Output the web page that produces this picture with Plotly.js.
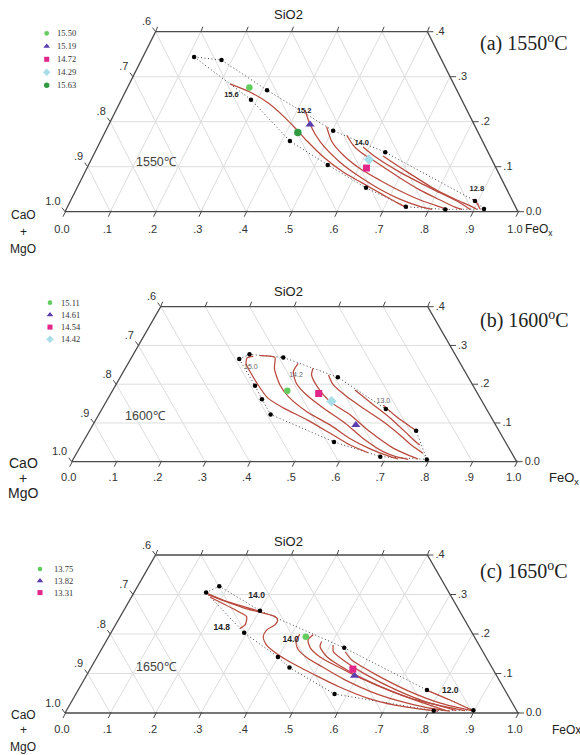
<!DOCTYPE html>
<html><head><meta charset="utf-8">
<script src="https://cdn.plot.ly/plotly-3.0.1.min.js"></script>
<style>html,body{margin:0;padding:0;background:#fff}#chart{width:580px;height:755px}</style>
</head><body><div id="chart"></div>
<script>
// ================= DATA (ternary: FeOx fraction, SiO2 fraction) =================
const bottomTickLabels = ['0.0','.1','.2','.3','.4','.5','.6','.7','.8','.9','1.0']; // FeOx
const leftTickLabels   = ['1.0','.9','.8','.7','.6'];  // CaO+MgO
const rightTickLabels  = ['0.0','.1','.2','.3','.4'];  // SiO2

// ---- (a) 1550 C ----
const a_legendValues = ['15.50','15.19','14.72','14.29','15.63'];
const a_ptFeO  = [0.269,0.444,0.617,0.613,0.426];
const a_ptSiO2 = [0.276,0.194,0.097,0.116,0.176];
const a_dotFeO  = [0.113,0.177,0.311,0.286,0.418,0.502,0.528,0.641,0.638,0.747,0.837,0.893,0.922];
const a_dotSiO2 = [0.344,0.337,0.270,0.249,0.157,0.180,0.104,0.132,0.053,0.011,0.005,0.024,0.006];
const a_upperIdx = [0,1,2,5,7,11,12];
const a_lowerIdx = [0,3,4,6,8,9,10,12];
const a_isoFeO = [
 [0.222,0.275,0.327,0.375,0.415,0.456,0.509,0.570,0.624,0.680,0.725,0.753],
 [0.417,0.443,0.486,0.552,0.613,0.670,0.725,0.773,0.808],
 [0.483,0.511,0.551,0.603,0.660,0.717,0.771,0.818,0.843],
 [0.537,0.562,0.585,0.644,0.702,0.760,0.815,0.856,0.874],
 [0.586,0.624,0.695,0.752,0.807,0.857,0.892],
 [0.640,0.710,0.796,0.852,0.888,0.907],
 [0.887,0.900,0.913]
];
const a_isoSiO2 = [
 [0.284,0.266,0.242,0.213,0.186,0.157,0.122,0.088,0.064,0.039,0.019,0.008],
 [0.226,0.195,0.155,0.110,0.077,0.050,0.028,0.013,0.005],
 [0.189,0.156,0.126,0.096,0.070,0.046,0.026,0.012,0.005],
 [0.170,0.148,0.133,0.104,0.075,0.048,0.026,0.010,0.005],
 [0.144,0.122,0.088,0.064,0.042,0.022,0.005],
 [0.124,0.089,0.048,0.026,0.013,0.005],
 [0.028,0.019,0.006]
];
const a_labelText = ['15.6','15.2','14.0','12.8'];
const a_labelFeO  = [0.238,0.416,0.579,0.884];
const a_labelSiO2 = [0.259,0.224,0.152,0.050];

// ---- (b) 1600 C ----
const b_legendValues = ['15.11','14.61','14.54','14.42'];
const b_ptFeO  = [0.393,0.591,0.467,0.506];
const b_ptSiO2 = [0.183,0.095,0.176,0.156];
const b_dotFeO  = [0.244,0.261,0.341,0.314,0.347,0.386,0.489,0.638,0.734,0.795,0.687,0.564];
const b_dotSiO2 = [0.265,0.277,0.269,0.196,0.161,0.122,0.218,0.136,0.080,0.006,0.013,0.051];
const b_upperIdx = [0,1,2,6,7,8,9];
const b_lowerIdx = [0,3,4,5,11,10,9];
const b_isoFeO = [
 [0.272,0.260,0.266,0.285,0.320,0.359,0.406,0.475,0.543,0.604,0.655],
 [0.286,0.322,0.335,0.369,0.403,0.464,0.533,0.595,0.654,0.709,0.730],
 [0.382,0.382,0.404,0.442,0.497,0.559,0.625,0.687,0.722,0.753],
 [0.422,0.427,0.460,0.503,0.565,0.632,0.705,0.753,0.775],
 [0.465,0.489,0.534,0.586,0.649,0.703,0.745,0.778],
 [0.544,0.593,0.659,0.711,0.745,0.761],
 [0.627,0.672,0.708,0.731]
];
const b_isoSiO2 = [
 [0.272,0.268,0.252,0.232,0.198,0.164,0.139,0.108,0.074,0.043,0.023],
 [0.274,0.269,0.241,0.198,0.168,0.129,0.095,0.060,0.033,0.013,0.007],
 [0.254,0.232,0.202,0.172,0.138,0.103,0.060,0.026,0.013,0.006],
 [0.241,0.224,0.189,0.155,0.121,0.077,0.035,0.015,0.007],
 [0.224,0.198,0.168,0.138,0.103,0.069,0.041,0.022],
 [0.185,0.154,0.113,0.077,0.053,0.043],
 [0.146,0.116,0.095,0.082]
];
const b_labelText = ['15.0','14.2','13.0'];
const b_labelFeO  = [0.280,0.392,0.622];
const b_labelSiO2 = [0.245,0.224,0.157];

// ---- (c) 1650 C ----
const c_legendValues = ['13.75','13.82','13.31'];
const c_ptFeO  = [0.435,0.592,0.580];
const c_ptSiO2 = [0.193,0.094,0.111];
const c_dotFeO  = [0.159,0.180,0.301,0.294,0.399,0.438,0.534,0.571,0.770,0.811,0.898];
const c_dotSiO2 = [0.305,0.321,0.259,0.203,0.142,0.115,0.165,0.048,0.058,0.006,0.007];
const c_upperIdx = [0,1,2,6,8,10];
const c_lowerIdx = [0,3,4,5,7,9,10];
const c_isoFeO = [
 [0.162,0.211,0.258,0.299],
 [0.167,0.265,0.342,0.352,0.352,0.340,0.341,0.359,0.398,0.447,0.513,0.570,0.651,0.718,0.779,0.821],
 [0.174,0.254,0.279,0.286,0.279],
 [0.419,0.419,0.433,0.461,0.509,0.576,0.651,0.724,0.795,0.847],
 [0.449,0.444,0.459,0.492,0.544,0.607,0.690,0.770,0.838],
 [0.476,0.479,0.506,0.568,0.643,0.743,0.819,0.860],
 [0.506,0.515,0.547,0.608,0.703,0.793,0.880],
 [0.541,0.566,0.630,0.725,0.816,0.895],
 [0.769,0.833,0.898]
];
const c_isoSiO2 = [
 [0.303,0.284,0.270,0.258],
 [0.299,0.265,0.244,0.235,0.223,0.210,0.193,0.172,0.147,0.122,0.092,0.067,0.037,0.020,0.010,0.005],
 [0.293,0.257,0.244,0.223,0.214],
 [0.199,0.182,0.162,0.142,0.117,0.084,0.053,0.030,0.013,0.005],
 [0.198,0.185,0.165,0.142,0.117,0.089,0.056,0.028,0.006],
 [0.181,0.168,0.143,0.109,0.075,0.038,0.018,0.006],
 [0.172,0.155,0.134,0.101,0.058,0.025,0.006],
 [0.155,0.134,0.101,0.058,0.025,0.006],
 [0.058,0.033,0.006]
];
const c_labelText = ['14.0','14.8','14.0','12.0'];
const c_labelFeO  = [0.275,0.238,0.406,0.822];
const c_labelSiO2 = [0.296,0.216,0.185,0.057];

// ================= STYLE / LAYOUT =================
const W = 580, H = 755;
const SANS = 'Liberation Sans, Arial, sans-serif';
const SERIF = 'Liberation Serif, Times New Roman, serif';
const ISO_COLOR = '#b9493d';
const SYMS = ['circle','triangle-up','square','diamond','circle'];
const COLS = ['#63cc5f','#5a3eae','#e3268a','#a8dee8','#2f9a40'];
const SIZES = [6.5,8,7,8,7.5];

const panels = [
 {tag:'(a) 1550', temp:'1550℃', X0:65, PW:453, Y0:211.7, PH:450, top:0, bot:248, grid:'tri',
  legend:a_legendValues, ptF:a_ptFeO, ptS:a_ptSiO2, dotF:a_dotFeO, dotS:a_dotSiO2, up:a_upperIdx, lo:a_lowerIdx,
  isoF:a_isoFeO, isoS:a_isoSiO2, labT:a_labelText, labF:a_labelFeO, labS:a_labelSiO2,
  labFont:{family:SANS,size:7.5,color:'#222'}, labBold:true,
  legX:46.7, legTX:55, legY:33.3, legStep:13.0, tagY:43, tempXY:[156.7,162.3], siY:15,
  caoY:[215,232,249], caoSize:12, feoXY:[523,230], feoSize:12, feoSub:true, botOff:18.3},
 {tag:'(b) 1600', temp:'1600℃', X0:71.7, PW:445, Y0:461.7, PH:387.5, top:248, bot:500, grid:'skew',
  legend:b_legendValues, ptF:b_ptFeO, ptS:b_ptSiO2, dotF:b_dotFeO, dotS:b_dotSiO2, up:b_upperIdx, lo:b_lowerIdx,
  isoF:b_isoFeO, isoS:b_isoSiO2, labT:b_labelText, labF:b_labelFeO, labS:b_labelSiO2,
  labFont:{family:SANS,size:7,color:'#666'}, labBold:false,
  legX:50, legTX:59, legY:302.7, legStep:12.2, tagY:320, tempXY:[145.7,415.7], siY:291,
  caoY:[463,478,493], caoSize:14, feoXY:[547,478], feoSize:13, feoSub:true, botOff:17},
 {tag:'(c) 1650', temp:'1650℃', X0:65, PW:453, Y0:713, PH:395, top:500, bot:755, grid:'tri',
  legend:c_legendValues, ptF:c_ptFeO, ptS:c_ptSiO2, dotF:c_dotFeO, dotS:c_dotSiO2, up:c_upperIdx, lo:c_lowerIdx,
  isoF:c_isoFeO, isoS:c_isoSiO2, labT:c_labelText, labF:c_labelFeO, labS:c_labelSiO2,
  labFont:{family:SANS,size:8.5,color:'#222'}, labBold:true,
  legX:40, legTX:51.7, legY:569, legStep:11.8, tagY:570, tempXY:[156,666.7], siY:541,
  caoY:[715,730,747], caoSize:12, feoXY:[550,730], feoSize:12, feoSub:false, botOff:17}
];

const traces = [];
const annotations = [];
const layout = {width:W, height:H, margin:{l:0,r:0,t:0,b:0}, paper_bgcolor:'#fff', plot_bgcolor:'rgba(0,0,0,0)', showlegend:false};

function tern(F,S){ return [F + S/2, S]; }
function ann(text, X, Y, font, xanchor){
  annotations.push({text:text, xref:'paper', yref:'paper', x:X/W, y:1-Y/H, xanchor:xanchor||'center', yanchor:'middle', showarrow:false, font:font});
}

panels.forEach((p,i)=>{
  const xa = i===0 ? 'x' : 'x'+(i+1), ya = i===0 ? 'y' : 'y'+(i+1);
  const xk = i===0 ? 'xaxis' : 'xaxis'+(i+1), yk = i===0 ? 'yaxis' : 'yaxis'+(i+1);
  layout[xk] = {domain:[0,1], range:[-p.X0/p.PW, (W-p.X0)/p.PW], visible:false, fixedrange:true, anchor:ya};
  layout[yk] = {domain:[1-p.bot/H, 1-p.top/H], range:[(p.Y0-p.bot)/p.PH, (p.Y0-p.top)/p.PH], visible:false, fixedrange:true, anchor:xa};
  const dx = v=>v/p.PW, dy = v=>v/p.PH;
  const pxX = X=>(X-p.X0)/p.PW, pxY = Y=>(p.Y0-Y)/p.PH;
  const base = {xaxis:xa, yaxis:ya, hoverinfo:'skip', cliponaxis:false};

  // grid
  const gx=[], gy=[];
  const seg=(a,b)=>{gx.push(a[0],b[0],null); gy.push(a[1],b[1],null);};
  [0.1,0.2,0.3].forEach(s=>seg([s/2,s],[1-s/2,s]));
  for(let k=1;k<=9;k++){
    const v=k/10, sm=Math.min(0.4,1-v);
    seg([1-v,0],[1-v-sm/2,sm]);            // constant CaO+MgO
    if(p.grid==='tri') seg([v,0],[v+sm/2,sm]); // constant FeOx
  }
  traces.push(Object.assign({type:'scatter', mode:'lines', x:gx, y:gy, line:{color:'#dddddd', width:1}}, base));

  // frame
  const fr=[[0,0],[1,0],[0.8,0.4],[0.2,0.4],[0,0]];
  traces.push(Object.assign({type:'scatter', mode:'lines', x:fr.map(q=>q[0]), y:fr.map(q=>q[1]), line:{color:'#4a4a4a', width:1.3}}, base));

  // ticks
  const tx=[], ty=[];
  const tseg=(a,b)=>{tx.push(a[0],b[0],null); ty.push(a[1],b[1],null);};
  bottomTickLabels.forEach((t,k)=>{const x=k/10; tseg([x+dx(1),dy(1)],[x-dx(2),-dy(5)]);});
  rightTickLabels.forEach((t,k)=>{const s=k/10; tseg([1-s/2,s],[1-s/2+dx(6),s]);});
  leftTickLabels.forEach((t,k)=>{const s=k/10; tseg([s/2,s],[s/2-dx(3),s+dy(4)]);});
  for(let k=0;k<=6;k++){const x=0.2+k/10; tseg([x,0.4],[x+dx(2),0.4+dy(5)]);}
  traces.push(Object.assign({type:'scatter', mode:'lines', x:tx, y:ty, line:{color:'#4a4a4a', width:1}}, base));

  // tick labels
  const tf = {family:SANS, size:11, color:'#333'};
  traces.push(Object.assign({type:'scatter', mode:'text', x:bottomTickLabels.map((t,k)=>k/10-dx(3)),
    y:bottomTickLabels.map(()=>-dy(p.botOff)), text:bottomTickLabels, textposition:'middle center', textfont:tf}, base));
  traces.push(Object.assign({type:'scatter', mode:'text', x:rightTickLabels.map((t,k)=>1-k/20+dx(8)),
    y:rightTickLabels.map((t,k)=>k/10-dy(0.5)), text:rightTickLabels, textposition:'middle right', textfont:tf}, base));
  traces.push(Object.assign({type:'scatter', mode:'text', x:leftTickLabels.map((t,k)=>k/20-dx(4.5)),
    y:leftTickLabels.map((t,k)=>k/10+dy(9)), text:leftTickLabels, textposition:'middle left', textfont:tf}, base));

  // dotted envelope
  [p.up, p.lo].forEach(idx=>{
    const pts = idx.map(j=>tern(p.dotF[j], p.dotS[j]));
    traces.push(Object.assign({type:'scatter', mode:'lines', x:pts.map(q=>q[0]), y:pts.map(q=>q[1]),
      line:{color:'#444', width:1, dash:'1px,2.5px'}}, base));
  });

  // iso-lines
  p.isoF.forEach((Fs,j)=>{
    const Ss = p.isoS[j];
    const pts = Fs.map((f,m)=>tern(f, Ss[m]));
    traces.push(Object.assign({type:'scatter', mode:'lines', x:pts.map(q=>q[0]), y:pts.map(q=>q[1]),
      line:{color:ISO_COLOR, width:1.25, shape:'spline', smoothing:0.7}}, base));
  });

  // black data dots
  const dp = p.dotF.map((f,j)=>tern(f, p.dotS[j]));
  traces.push(Object.assign({type:'scatter', mode:'markers', x:dp.map(q=>q[0]), y:dp.map(q=>q[1]),
    marker:{color:'#000', size:4.5}}, base));

  // composition markers
  p.ptF.forEach((f,j)=>{
    const q = tern(f, p.ptS[j]);
    traces.push(Object.assign({type:'scatter', mode:'markers', x:[q[0]], y:[q[1]],
      marker:{symbol:SYMS[j], color:COLS[j], size:SIZES[j], line:{width:0}}}, base));
  });

  // iso-line labels
  const lp = p.labF.map((f,j)=>tern(f, p.labS[j]));
  traces.push(Object.assign({type:'scatter', mode:'text', x:lp.map(q=>q[0]), y:lp.map(q=>q[1]),
    text:p.labT.map(t=>p.labBold?'<b>'+t+'</b>':t), textposition:'middle center', textfont:p.labFont}, base));

  // legend (markers + text)
  p.legend.forEach((v,j)=>{
    const Y = p.legY + j*p.legStep;
    traces.push(Object.assign({type:'scatter', mode:'markers', x:[pxX(p.legX)], y:[pxY(Y)],
      marker:{symbol:SYMS[j], color:COLS[j], size:SIZES[j]*0.72, line:{width:0}}}, base));
    ann(v, p.legTX, Y, {family:SERIF, size:8.5, color:'#333'}, 'left');
  });

  // titles / axis names
  ann('SiO2', 288, p.siY, {family:SANS, size:13, color:'#222'});
  ann(p.tag+'<sup>o</sup>C', 478, p.tagY, {family:SERIF, size:20, color:'#222'}, 'left');
  ann(p.temp, p.tempXY[0], p.tempXY[1], {family:SANS, size:12.5, color:'#444'});
  ann('CaO', 23, p.caoY[0], {family:SANS, size:p.caoSize, color:'#222'});
  ann('+', 23, p.caoY[1], {family:SANS, size:p.caoSize, color:'#222'});
  ann('MgO', 23, p.caoY[2], {family:SANS, size:p.caoSize, color:'#222'});
  ann(p.feoSub ? 'FeO<sub>x</sub>' : 'FeOx', p.feoXY[0], p.feoXY[1], {family:SANS, size:p.feoSize, color:'#222'}, 'left');
});

layout.annotations = annotations;
Plotly.newPlot('chart', traces, layout, {staticPlot:true, displayModeBar:false});
</script>
</body></html>
